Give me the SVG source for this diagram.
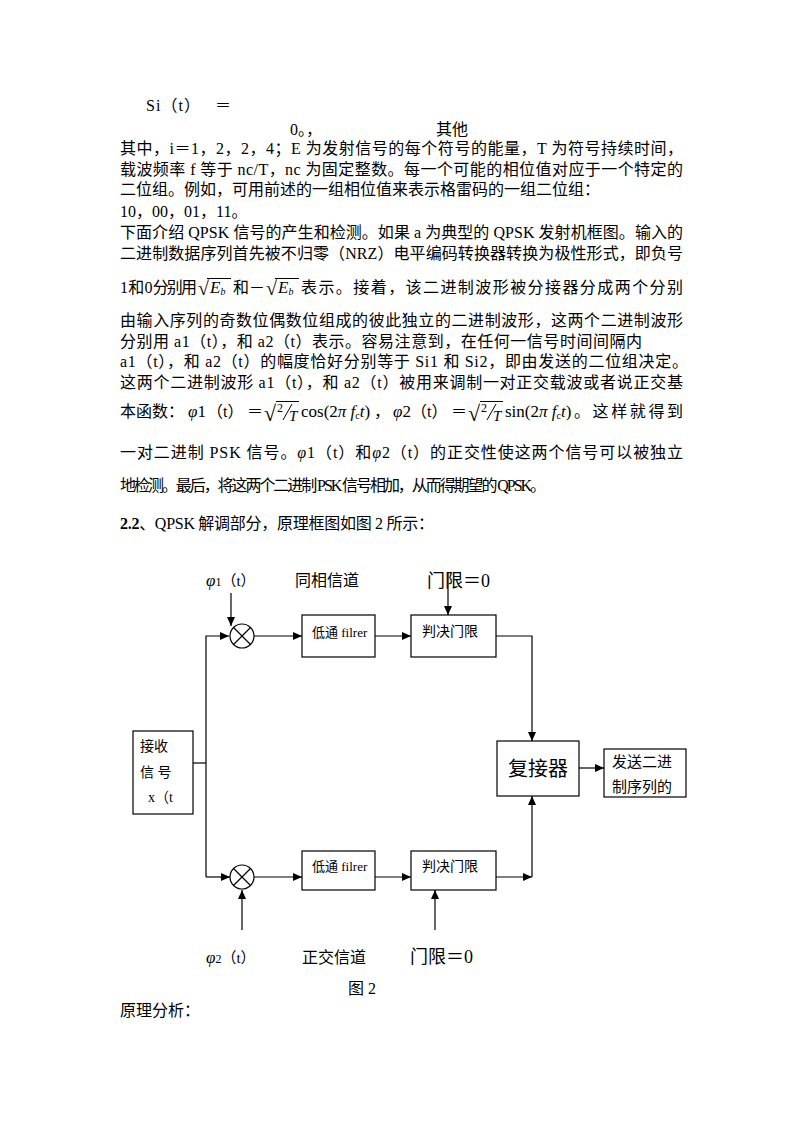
<svg xmlns="http://www.w3.org/2000/svg" width="800" height="1132" viewBox="0 0 800 1132">
<style>
.t{font-family:"Liberation Serif","Noto Sans CJK SC",serif;font-size:16px;fill:#000}
.m{font-family:"Liberation Serif",serif;fill:#000}
.i{font-style:italic}
.d{font-family:"Liberation Serif","Noto Sans CJK SC",serif;fill:#000}
.box{fill:#fff;stroke:#000;stroke-width:1.2}
.ln{fill:none;stroke:#000;stroke-width:1.2}
.bar{stroke:#000;stroke-width:1}
</style>
<defs>
<marker id="ah" markerWidth="9" markerHeight="8" refX="9" refY="4" orient="auto" markerUnits="userSpaceOnUse">
<path d="M0,0 L9,4 L0,8 Z" fill="#000"/>
</marker>
</defs>
<rect width="800" height="1132" fill="#fff"/>

<g id="body-text">
<text class="t" x="146" y="111" textLength="54" lengthAdjust="spacing">Si（t）</text>
<text class="t" x="215" y="111">＝</text>
<text class="t" x="290" y="135">0。，</text>
<text class="t" x="436" y="135">其他</text>
<text class="t" x="120" y="154" textLength="563" lengthAdjust="spacing">其中，i＝1，2，2，4；E 为发射信号的每个符号的能量，T 为符号持续时间，</text>
<text class="t" x="120" y="175" textLength="563" lengthAdjust="spacing">载波频率 f 等于 nc/T，nc 为固定整数。每一个可能的相位值对应于一个特定的</text>
<text class="t" x="120" y="195">二位组。例如，可用前述的一组相位值来表示格雷码的一组二位组：</text>
<text class="t" x="120" y="217">10，00，01，11。</text>
<text class="t" x="120" y="238" textLength="563" lengthAdjust="spacing">下面介绍 QPSK 信号的产生和检测。如果 a 为典型的 QPSK 发射机框图。输入的</text>
<text class="t" x="120" y="259" textLength="563" lengthAdjust="spacing">二进制数据序列首先被不归零（NRZ）电平编码转换器转换为极性形式，即负号</text>

<text class="t" x="120" y="293" textLength="77" lengthAdjust="spacing">1 和 0 分别用</text>
<text class="m" x="198" y="295" font-size="20">√</text>
<line class="bar" x1="207" y1="278.5" x2="231" y2="278.5"/>
<text class="m i" x="210" y="293" font-size="17">E<tspan font-size="10" dy="2">b</tspan></text>
<text class="t" x="233" y="293">和－</text>
<text class="m" x="266" y="295" font-size="20">√</text>
<line class="bar" x1="275" y1="278.5" x2="299" y2="278.5"/>
<text class="m i" x="278" y="293" font-size="17">E<tspan font-size="10" dy="2">b</tspan></text>
<text class="t" x="301" y="293" textLength="382" lengthAdjust="spacing">表示。接着，该二进制波形被分接器分成两个分别</text>

<text class="t" x="120" y="326" textLength="563" lengthAdjust="spacing">由输入序列的奇数位偶数位组成的彼此独立的二进制波形，这两个二进制波形</text>
<text class="t" x="120" y="347" textLength="522" lengthAdjust="spacing">分别用 a1（t），和 a2（t）表示。容易注意到，在任何一信号时间间隔内</text>
<text class="t" x="120" y="367" textLength="568" lengthAdjust="spacing">a1（t），和 a2（t）的幅度恰好分别等于 Si1 和 Si2，即由发送的二位组决定。</text>
<text class="t" x="120" y="388" textLength="563" lengthAdjust="spacing">这两个二进制波形 a1（t），和 a2（t）被用来调制一对正交载波或者说正交基</text>

<text class="t" x="120" y="417">本函数：</text>
<text class="m" x="188" y="417" font-size="17"><tspan class="i">φ</tspan>1</text>
<text class="t" x="207" y="417">（t）</text>
<text class="t" x="247" y="417">＝</text>
<text class="m" x="264" y="421" font-size="22">√</text>
<line class="bar" x1="276" y1="401.5" x2="299" y2="401.5"/>
<text class="m" x="277" y="412" font-size="12">2</text>
<line class="bar" x1="283" y1="420" x2="292" y2="404"/>
<text class="m i" x="289" y="421" font-size="15">T</text>
<text class="m" x="301" y="417" font-size="17">cos(2<tspan class="i">π</tspan> <tspan class="i">f</tspan><tspan font-size="10" dy="2">c</tspan><tspan class="i" dy="-2">t</tspan>)</text>
<text class="t" x="374" y="417">，</text>
<text class="m" x="393" y="417" font-size="17"><tspan class="i">φ</tspan>2</text>
<text class="t" x="411" y="417">（t）</text>
<text class="t" x="451" y="417">＝</text>
<text class="m" x="468" y="421" font-size="22">√</text>
<line class="bar" x1="480" y1="401.5" x2="503" y2="401.5"/>
<text class="m" x="481" y="412" font-size="12">2</text>
<line class="bar" x1="487" y1="420" x2="496" y2="404"/>
<text class="m i" x="493" y="421" font-size="15">T</text>
<text class="m" x="505" y="417" font-size="17">sin(2<tspan class="i">π</tspan> <tspan class="i">f</tspan><tspan font-size="10" dy="2">c</tspan><tspan class="i" dy="-2">t</tspan>)</text>
<text class="t" x="574" y="417" textLength="109" lengthAdjust="spacing">。这样就得到</text>

<text class="t" x="120" y="458" textLength="563" lengthAdjust="spacing">一对二进制 PSK 信号。<tspan class="i">φ</tspan>1（t）和<tspan class="i">φ</tspan>2（t）的正交性使这两个信号可以被独立</text>
<text class="t" x="120" y="491" font-size="15" textLength="426" lengthAdjust="spacing">地检测。最后，将这两个二进制 PSK 信号相加，从而得期望的 QPSK。</text>
<text class="t" x="120" y="529" textLength="314" lengthAdjust="spacing"><tspan font-weight="bold">2.2</tspan>、QPSK 解调部分，原理框图如图 2 所示：</text>
</g>

<g id="connectors">
<polyline class="ln" points="193,763 206,763"/>
<polyline class="ln" points="206,877 206,636 229,636" marker-end="url(#ah)"/>
<polyline class="ln" points="206,877 230,877" marker-end="url(#ah)"/>
<line class="ln" x1="231" y1="593" x2="231" y2="626" marker-end="url(#ah)"/>
<line class="ln" x1="254" y1="636" x2="302" y2="636" marker-end="url(#ah)"/>
<line class="ln" x1="375" y1="636" x2="411" y2="636" marker-end="url(#ah)"/>
<line class="ln" x1="448" y1="573" x2="448" y2="615" marker-end="url(#ah)"/>
<polyline class="ln" points="496,636 532,636 532,741" marker-end="url(#ah)"/>
<line class="ln" x1="242" y1="930" x2="242" y2="890" marker-end="url(#ah)"/>
<line class="ln" x1="254" y1="877" x2="302" y2="877" marker-end="url(#ah)"/>
<line class="ln" x1="375" y1="877" x2="411" y2="877" marker-end="url(#ah)"/>
<line class="ln" x1="435" y1="930" x2="435" y2="890" marker-end="url(#ah)"/>
<line class="ln" x1="496" y1="877" x2="532" y2="877" marker-end="url(#ah)"/>
<line class="ln" x1="532" y1="877" x2="532" y2="796" marker-end="url(#ah)"/>
<line class="ln" x1="579" y1="768" x2="604" y2="768" marker-end="url(#ah)"/>
</g>

<g id="input">
<rect class="box" x="133" y="731" width="60" height="83"/>
<text class="d" x="140" y="751" font-size="14">接收</text>
<text class="d" x="140" y="777" font-size="14" xml:space="preserve">信 号</text>
<text class="d" x="148" y="802" font-size="14">x（t</text>
</g>

<g id="mult1">
<circle class="box" cx="242" cy="636" r="12"/>
<path class="ln" d="M233.5,627.5 L250.5,644.5 M250.5,627.5 L233.5,644.5"/>
</g>
<g id="mult2">
<circle class="box" cx="242" cy="877" r="12"/>
<path class="ln" d="M233.5,868.5 L250.5,885.5 M250.5,868.5 L233.5,885.5"/>
</g>

<g id="lpf1">
<rect class="box" x="302" y="615" width="73" height="42"/>
<text class="d" x="312" y="637" font-size="13">低通 filrer</text>
</g>
<g id="dec1">
<rect class="box" x="411" y="615" width="85" height="42"/>
<text class="d" x="422" y="636" font-size="14">判决门限</text>
</g>
<g id="lpf2">
<rect class="box" x="302" y="851" width="73" height="39"/>
<text class="d" x="312" y="871" font-size="13">低通 filrer</text>
</g>
<g id="dec2">
<rect class="box" x="411" y="851" width="85" height="39"/>
<text class="d" x="422" y="871" font-size="14">判决门限</text>
</g>
<g id="mux">
<rect class="box" x="497" y="741" width="82" height="55"/>
<text class="d" x="508" y="776" font-size="20">复接器</text>
</g>
<g id="output">
<rect class="box" x="604" y="749" width="82" height="48"/>
<text class="d" x="612" y="767" font-size="15">发送二进</text>
<text class="d" x="612" y="792" font-size="15">制序列的</text>
</g>

<g id="labels">
<text class="d" x="206" y="586"><tspan class="i" font-size="17">φ</tspan><tspan font-size="12">1</tspan><tspan font-size="15">（t）</tspan></text>
<text class="d" x="295" y="586" font-size="16">同相信道</text>
<text class="d" x="427" y="587" font-size="18">门限＝0</text>
<text class="d" x="206" y="963"><tspan class="i" font-size="17">φ</tspan><tspan font-size="12">2</tspan><tspan font-size="15">（t）</tspan></text>
<text class="d" x="302" y="963" font-size="16">正交信道</text>
<text class="d" x="410" y="963" font-size="18">门限＝0</text>
<text class="d" x="348" y="994" font-size="16">图 2</text>
<text class="t" x="120" y="1016">原理分析：</text>
</g>
</svg>
